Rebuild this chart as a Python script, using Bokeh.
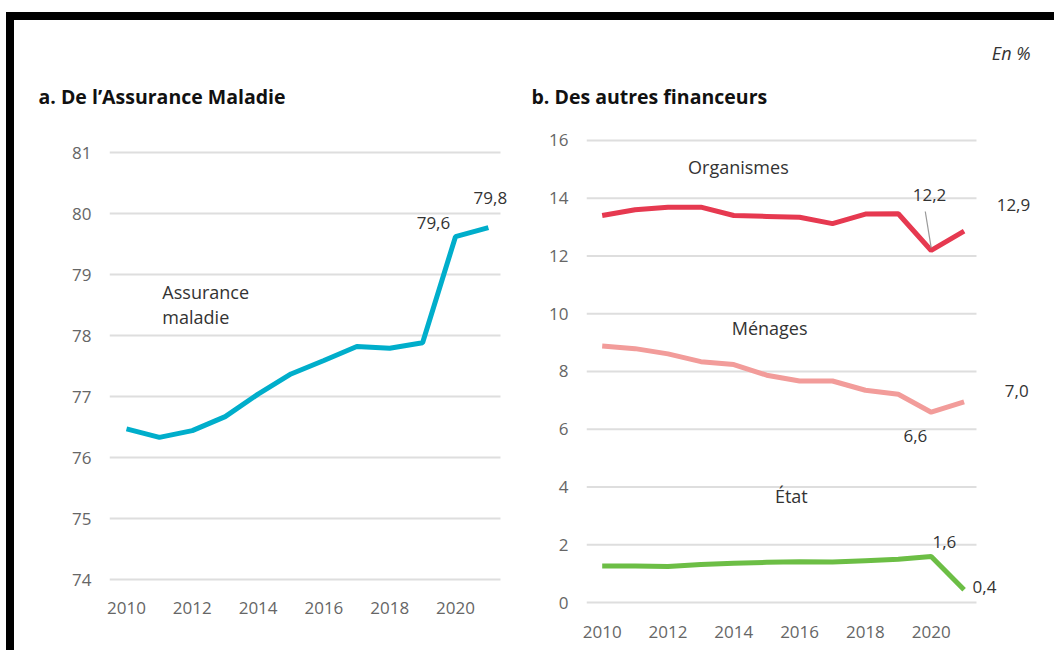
from bokeh.plotting import figure
from bokeh.models import Range1d, FixedTicker, Row, Column
from bokeh.core.properties import value
from bokeh.embed import file_html
from bokeh.resources import INLINE

years = [2010, 2011, 2012, 2013, 2014, 2015, 2016, 2017, 2018, 2019, 2020, 2021]
assurance = [76.47, 76.33, 76.44, 76.67, 77.04, 77.37, 77.59, 77.82, 77.79, 77.88, 79.62, 79.77]
organismes = [13.40, 13.60, 13.69, 13.69, 13.40, 13.37, 13.34, 13.12, 13.45, 13.46, 12.19, 12.86]
menages = [8.88, 8.79, 8.61, 8.34, 8.24, 7.87, 7.67, 7.67, 7.35, 7.21, 6.59, 6.95]
etat = [1.26, 1.26, 1.25, 1.32, 1.36, 1.39, 1.41, 1.40, 1.45, 1.50, 1.59, 0.44]
xticks = [2010, 2012, 2014, 2016, 2018, 2020]
yticks_a = [74, 75, 76, 77, 78, 79, 80, 81]
yticks_b = [0, 2, 4, 6, 8, 10, 12, 14, 16]

FONT = "Open Sans"
TICK_COLOR = "#666666"
TEXT_COLOR = "#333333"
GRID = "#dedede"


def style(p, yticks, x0, x1, xstandoff):
    p.outline_line_color = None
    p.xgrid.visible = False
    p.ygrid.visible = False
    p.segment(x0=[x0] * len(yticks), y0=yticks, x1=[x1] * len(yticks), y1=yticks,
              line_color=GRID, line_width=2)
    p.yaxis.ticker = FixedTicker(ticks=yticks)
    p.xaxis.ticker = FixedTicker(ticks=xticks)
    for ax in (p.xaxis[0], p.yaxis[0]):
        ax.axis_line_color = None
        ax.major_tick_line_color = None
        ax.minor_tick_line_color = None
        ax.major_label_text_font = FONT
        ax.major_label_text_font_size = "17px"
        ax.major_label_text_color = TICK_COLOR
    p.yaxis.major_label_standoff = 12
    p.xaxis.major_label_standoff = xstandoff


def lab(p, x, y, text, size="18px", align="center", style_="normal", color=TEXT_COLOR):
    p.text(x=[x], y=[y], text=[text], text_font=value(FONT), text_font_size=size,
           text_align=align, text_baseline="middle", text_color=color,
           text_font_style=style_)


# Header with titles
hd = figure(width=1040, height=100, x_range=Range1d(0, 1040), y_range=Range1d(0, 100),
            output_backend="svg", toolbar_location=None, min_border=0)
hd.axis.visible = False
hd.grid.visible = False
hd.outline_line_color = None
lab(hd, 24, 24, "a. De l\u2019Assurance Maladie", size="19.5px", align="left", style_="bold", color="#111111")
lab(hd, 517, 24, "b. Des autres financeurs", size="19.5px", align="left", style_="bold", color="#111111")
lab(hd, 1016, 68, "En %", size="18px", align="right", style_="italic")

# Panel a
ax0, ax1 = 2009.483, 2022.28
pa = figure(width=516, height=530, x_range=Range1d(ax0, ax1),
            y_range=Range1d(73.459, 81.525), output_backend="svg", toolbar_location=None,
            min_border_left=95, min_border_right=0, min_border_top=0, min_border_bottom=38)
style(pa, yticks_a, ax0, 2021.368, -17)
pa.line(years, assurance, line_color="#00AECB", line_width=5)
lab(pa, 2011.09, 78.72, "Assurance", align="left")
lab(pa, 2011.09, 78.30, "maladie", align="left")
lab(pa, 2019.33, 79.84, "79,6", size="17px")
lab(pa, 2021.06, 80.25, "79,8", size="17px")

# Panel b
bx0, bx1 = 2009.523, 2023.748
pb = figure(width=524, height=530, x_range=Range1d(bx0, bx1),
            y_range=Range1d(-0.346, 16.69), output_backend="svg", toolbar_location=None,
            min_border_left=56, min_border_right=0, min_border_top=0, min_border_bottom=38)
style(pb, yticks_b, bx0, 2021.377, 7)
pb.line(years, organismes, line_color="#E63950", line_width=5)
pb.line(years, menages, line_color="#F29C9A", line_width=5)
pb.line(years, etat, line_color="#6CBE45", line_width=5)
pb.segment(x0=[2019.82], y0=[13.54], x1=[2020.0], y1=[12.28], line_color="#999999", line_width=1.2)
lab(pb, 2014.14, 15.08, "Organismes")
lab(pb, 2015.09, 9.49, "Ménages")
lab(pb, 2015.75, 3.68, "État")
lab(pb, 2019.95, 14.10, "12,2", size="17px")
lab(pb, 2022.50, 13.76, "12,9", size="17px")
lab(pb, 2022.60, 7.34, "7,0", size="17px")
lab(pb, 2019.52, 5.75, "6,6", size="17px")
lab(pb, 2020.40, 2.08, "1,6", size="17px")
lab(pb, 2021.62, 0.55, "0,4", size="17px")

page = Column(children=[hd, Row(children=[pa, pb])],
              styles={"border-top": "8px solid black", "border-left": "8px solid black",
                      "margin-top": "12px", "margin-left": "6px"})

open("out.html", "w").write(file_html(page, INLINE))
